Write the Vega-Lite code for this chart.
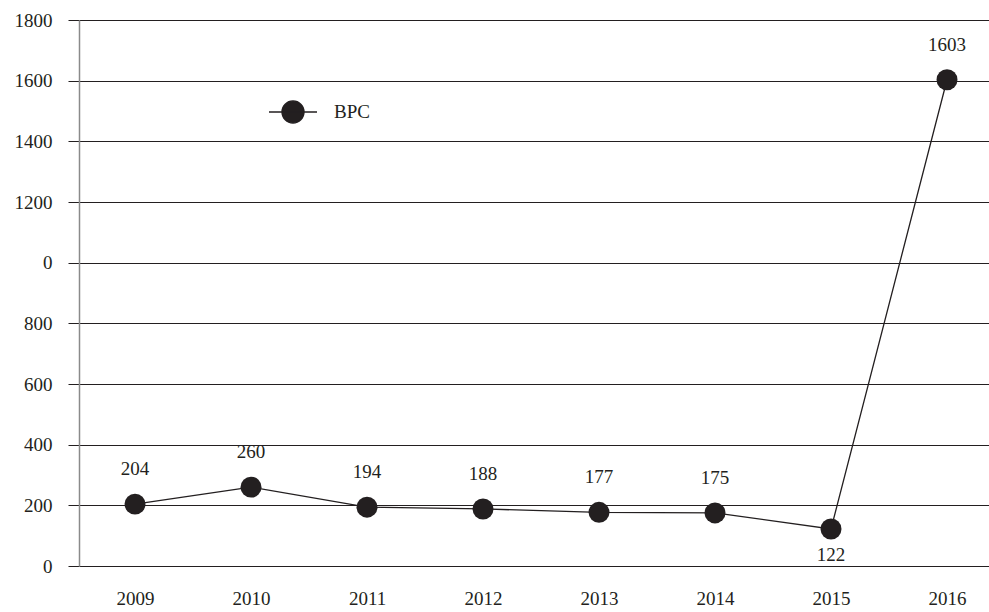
{
  "$schema": "https://vega.github.io/schema/vega-lite/v6.json",
  "autosize": "none",
  "width": 910,
  "height": 546,
  "padding": {"left": 79, "top": 20, "right": 0, "bottom": 46},
  "background": "white",
  "config": {
    "view": {"stroke": null},
    "font": "Liberation Serif",
    "axis": {"labelFont": "Liberation Serif", "labelFontSize": 19, "labelColor": "#231f20"}
  },
  "data": {
    "values": [
      {"year": 2009, "value": 204, "series": "BPC"},
      {"year": 2010, "value": 260, "series": "BPC"},
      {"year": 2011, "value": 194, "series": "BPC"},
      {"year": 2012, "value": 188, "series": "BPC"},
      {"year": 2013, "value": 177, "series": "BPC"},
      {"year": 2014, "value": 175, "series": "BPC"},
      {"year": 2015, "value": 122, "series": "BPC"},
      {"year": 2016, "value": 1603, "series": "BPC"}
    ]
  },
  "encoding": {
    "x": {
      "field": "year", "type": "quantitative",
      "scale": {"domain": [2008.517, 2016.362], "nice": false, "zero": false},
      "axis": {"values": [2009, 2010, 2011, 2012, 2013, 2014, 2015, 2016], "format": "d", "title": null,
               "domain": false, "ticks": false, "grid": false, "labelPadding": 23}
    },
    "y": {
      "field": "value", "type": "quantitative",
      "scale": {"domain": [0, 1800], "nice": false},
      "axis": {"values": [0, 200, 400, 600, 800, 1000, 1200, 1400, 1600, 1800], "title": null,
               "format": "d", "labelExpr": "datum.value == 1000 ? '0' : datum.label",
               "domain": true, "domainColor": "#8a8a8a", "domainWidth": 1.5,
               "ticks": true, "tickSize": 11, "tickColor": "#231f20", "tickWidth": 1,
               "grid": true, "gridColor": "#231f20", "gridWidth": 1, "gridOpacity": 1,
               "labelPadding": 16}
    }
  },
  "layer": [
    {"mark": {"type": "line", "color": "#231f20", "strokeWidth": 1.3}},
    {
      "mark": {"type": "point", "filled": true, "opacity": 1},
      "encoding": {
        "color": {"field": "series", "type": "nominal", "scale": {"range": ["#231f20"]},
                  "legend": {"title": null, "orient": "none", "legendX": 189, "legendY": 67,
                             "symbolType": "M-1,0L1,0M-0.46,0A0.46,0.46 0 1,0 0.46,0A0.46,0.46 0 1,0 -0.46,0",
                             "symbolSize": 2304, "symbolStrokeWidth": 1.3, "symbolStrokeColor": "#231f20",
                             "symbolFillColor": "#231f20",
                             "labelFont": "Liberation Serif", "labelFontSize": 19, "labelColor": "#231f20",
                             "labelOffset": 16,
                             "encode": {"symbols": {"update": {"stroke": {"value": "#231f20"}, "strokeWidth": {"value": 1.3}, "fill": {"value": "#231f20"}, "opacity": {"value": 1}}}}}},
        "size": {"value": 440}
      }
    },
    {
      "transform": [{"filter": "datum.year != 2015"}],
      "mark": {"type": "text", "dy": -35, "fontSize": 19, "color": "#231f20", "font": "Liberation Serif"},
      "encoding": {"text": {"field": "value", "type": "quantitative", "format": "d"}}
    },
    {
      "transform": [{"filter": "datum.year == 2015"}],
      "mark": {"type": "text", "dy": 26, "fontSize": 19, "color": "#231f20", "font": "Liberation Serif"},
      "encoding": {"text": {"field": "value", "type": "quantitative", "format": "d"}}
    }
  ]
}
